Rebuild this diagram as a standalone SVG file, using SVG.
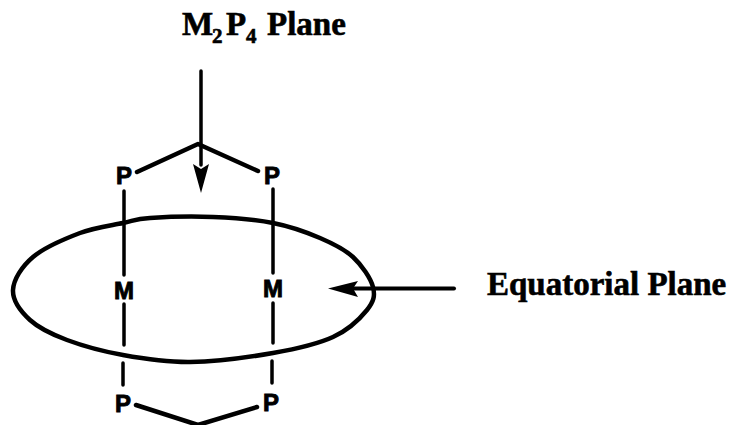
<svg xmlns="http://www.w3.org/2000/svg" width="730" height="425" viewBox="0 0 730 425">
<style>
.l{fill:none;stroke:#000;stroke-width:3.5;stroke-linecap:round;stroke-linejoin:round}
.b{stroke-width:4.5}
.t{fill:#000;stroke:none}
.s{font-family:"Liberation Serif",serif;font-weight:bold;font-size:33px;fill:#000;stroke:#000;stroke-width:.6}
.a{font-family:"Liberation Sans",sans-serif;font-weight:bold;font-size:24px;fill:#000;stroke:#000;stroke-width:.9;text-anchor:middle}
</style>
<rect width="730" height="425" fill="#fff"/>
<g id="connectors">
<path class="l" d="M201 71V165"/>
<path class="t" d="M193 164L201 169L209 164L201 193Z"/>
<path class="l b" d="M137 172L198 144L258 171"/>
<path class="l" d="M124 191V275M124 304V345M123 363V385"/>
<path class="l" d="M273 189V273M273 303V343M272 361V383"/>
<path class="l b" d="M136 405L198 425L257 407"/>
<path class="l" style="stroke-width:4" d="M454 288.5H352"/>
<path class="t" d="M328 288.5L358 281L353 288.5L358 297Z"/>
</g>
<g id="equatorial-plane"><path class="l b" d="M13 290C13.5 279.5 21.8 266.5 33 257C44.2 247.5 65 238.7 80 233C95 227.3 111.3 225.5 123 223C134.7 220.5 135 219 150 218C165 217 192.5 216.2 213 217C233.5 217.8 255.2 219.5 273 223C290.8 226.5 306.7 232.3 320 238C333.3 243.7 344.2 248.8 353 257C361.8 265.2 370.7 278.2 373 287C375.3 295.8 373.7 301.7 367 310C360.3 318.3 348.7 329.8 333 337C317.3 344.2 296.8 348.8 273 353C249.2 357.2 215 361.7 190 362C165 362.3 143.5 358.7 123 355C102.5 351.3 82.5 345.8 67 340C51.5 334.2 39 328.3 30 320C21 311.7 12.5 300.5 13 290Z"/></g>
<g id="label-m2p4"><text class="s" y="35"><tspan x="182">M</tspan><tspan x="212" y="43" font-size="21">2</tspan><tspan x="226" y="35">P</tspan><tspan x="246" y="43" font-size="21">4</tspan><tspan x="267" y="35">Plane</tspan></text></g>
<g id="label-equatorial"><text class="s" x="487" y="295">Equatorial Plane</text></g>
<g id="p-top-left"><text class="a" x="124" y="184">P</text></g>
<g id="p-top-right"><text class="a" x="272" y="184">P</text></g>
<g id="m-left"><text class="a" x="124" y="299" font-size="25">M</text></g>
<g id="m-right"><text class="a" x="273" y="297" font-size="25">M</text></g>
<g id="p-bottom-left"><text class="a" x="123" y="412">P</text></g>
<g id="p-bottom-right"><text class="a" x="271" y="411">P</text></g>
</svg>
